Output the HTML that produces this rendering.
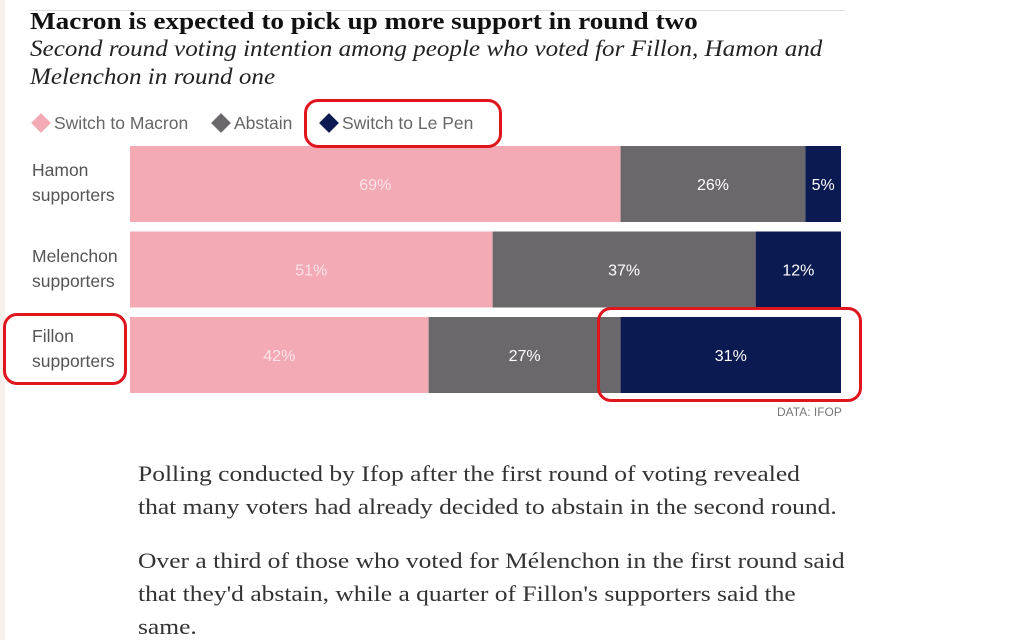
<!DOCTYPE html>
<html><head><meta charset="utf-8"><style>
body{margin:0;width:1024px;height:640px;background:#fff;position:relative;overflow:hidden;font-family:"Liberation Sans",sans-serif}
.a{position:absolute}
.strip{left:0;top:0;width:5px;height:640px;background:#f7efe9}
.title{left:30px;top:9px;font:bold 24px "Liberation Serif",serif;color:#111;white-space:nowrap;transform:scaleX(1.133);transform-origin:0 0}
.sub{left:30px;top:35px;font:italic 23.5px/28px "Liberation Serif",serif;color:#222;white-space:nowrap;transform:scaleX(1.068);transform-origin:0 0}
.leg{top:113px;font-size:17.5px;color:#666;white-space:nowrap}
.dia{display:inline-block;width:14px;height:14px;transform:rotate(45deg);margin:0 6px 0 4px;vertical-align:-1px}
.lab{left:32px;font-size:17.5px;line-height:25px;color:#555}
.body{left:138px;font:22px/33px "Liberation Serif",serif;color:#333;white-space:nowrap;transform:scaleX(1.16);transform-origin:0 0}
.red{border:3px solid #e0161e;border-radius:14px}
</style></head><body>
<div class="a strip"></div>
<div class="a" style="left:30px;top:10px;width:815px;height:1px;background:#ddd"></div>
<div class="a title">Macron is expected to pick up more support in round two</div>
<div class="a sub">Second round voting intention among people who voted for Fillon, Hamon and<br>Melenchon in round one</div>
<div class="a leg" style="left:30px"><span class="dia" style="background:#f4aab5"></span>Switch to Macron</div>
<div class="a leg" style="left:210px"><span class="dia" style="background:#6b686b"></span>Abstain</div>
<div class="a leg" style="left:318px"><span class="dia" style="background:#0c1a52"></span>Switch to Le Pen</div>
<svg class="a" style="left:0;top:0" width="1024" height="440" id="chart"></svg>
<div class="a lab" style="top:158px">Hamon<br>supporters</div>
<div class="a lab" style="top:244px">Melenchon<br>supporters</div>
<div class="a lab" style="top:324px">Fillon<br>supporters</div>
<div class="a" style="left:777px;top:405px;font-size:12px;color:#777">DATA: IFOP</div>
<div class="a red" style="left:304px;top:99px;width:192px;height:43px"></div>
<div class="a red" style="left:3px;top:313px;width:118px;height:66px"></div>
<div class="a red" style="left:597px;top:307px;width:259px;height:89px"></div>
<div class="a body" style="top:457px">Polling conducted by Ifop after the first round of voting revealed<br>that many voters had already decided to abstain in the second round.</div>
<div class="a body" style="top:544px">Over a third of those who voted for Mélenchon in the first round said<br>that they'd abstain, while a quarter of Fillon's supporters said the<br>same.</div>
<script>
const categories=["Hamon","Melenchon","Fillon"];
const macron=[69,51,42];
const abstain=[26,37,27];
const lepen=[5,12,31];
const colors=["#f4aab5","#6b686b","#0c1a52"];
const names=["macron","abstain","lepen"];
const svg=document.getElementById('chart');
const x0=130,x1=841,yTop=146,band=85.5,bh=76;
const xs=v=>v/100*(x1-x0);
const NS="http://www.w3.org/2000/svg";
categories.forEach((c,i)=>{
  const vals=[macron[i],abstain[i],lepen[i]];
  const tot=vals.reduce((a,b)=>a+b,0);
  let acc=0;
  vals.forEach((v,j)=>{
    const x=x0+xs(acc/tot*100), w=xs(v/tot*100), y=yTop+i*band;
    const r=document.createElementNS(NS,'rect');
    
    
    r.setAttribute('x',x);r.setAttribute('y',y);r.setAttribute('width',w);r.setAttribute('height',bh);r.setAttribute('fill',colors[j]);
    svg.appendChild(r);
    const t=document.createElementNS(NS,'text');
    
    
    t.setAttribute('x',x+w/2);t.setAttribute('y',y+bh/2+6);t.setAttribute('text-anchor','middle');
    t.setAttribute('fill',j==0?'#fbe3e7':'#fff');t.setAttribute('font-size','16');t.setAttribute('font-family','Liberation Sans, sans-serif');
    t.textContent=v+'%';
    svg.appendChild(t);
    acc+=v;
  });
});
</script>
</body></html>
